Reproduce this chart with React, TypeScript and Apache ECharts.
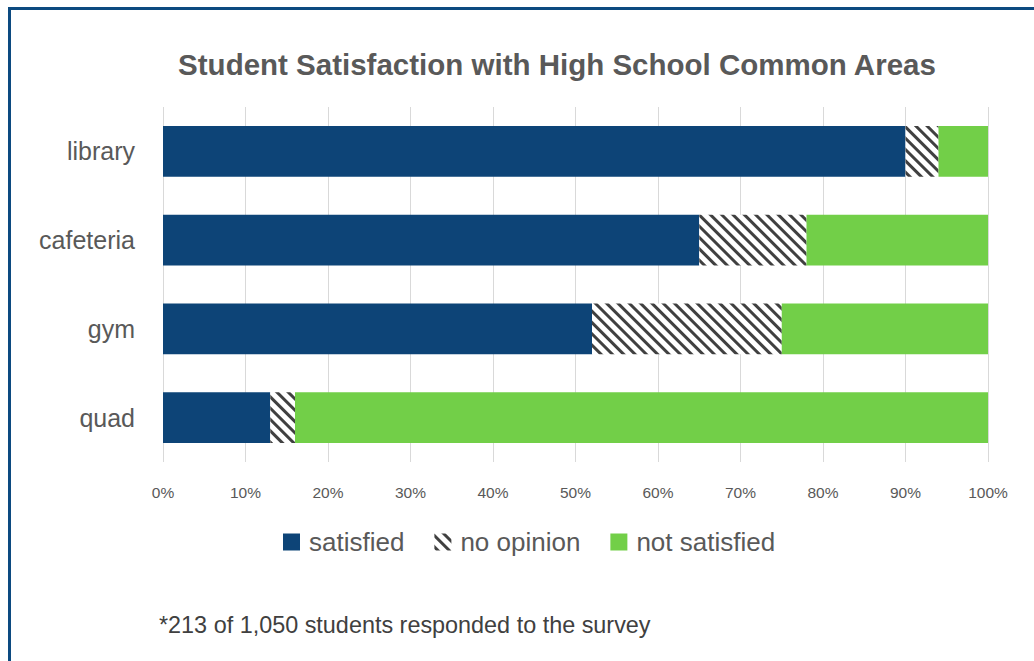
import React, { useEffect, useRef } from "react";
import * as echarts from "echarts";

const categories = ["library", "cafeteria", "gym", "quad"];
const satisfied = [90, 65, 52, 13];
const noOpinion = [4, 13, 23, 3];
const notSatisfied = [6, 22, 25, 84];
const xTicks = [0, 10, 20, 30, 40, 50, 60, 70, 80, 90, 100];

export default function App() {
  const ref = useRef<HTMLDivElement>(null);
  useEffect(() => {
    if (!ref.current) return;
    const chart = echarts.init(ref.current, null, { renderer: "svg" });
    const font = "'Liberation Sans', Arial, sans-serif";
    chart.setOption({
      animation: false,
      backgroundColor: "#ffffff",
      textStyle: { fontFamily: font },
      title: {
        text: "Student Satisfaction with High School Common Areas",
        left: 552,
        textAlign: "center",
        top: 44,
        textStyle: { fontSize: 29.5, fontWeight: "bold", color: "#595959", fontFamily: font },
      },
      legend: {
        left: 278,
        top: 524,
        itemWidth: 17,
        itemHeight: 17,
        itemGap: 30,
        icon: "rect",
        textStyle: { fontSize: 26, color: "#595959", fontFamily: font, padding: [0, 0, 0, 4] },
        data: ["satisfied", "no opinion", "not satisfied"],
      },
      grid: { left: 163, right: 46, top: 107, bottom: 199 },
      xAxis: {
        type: "value",
        min: 0,
        max: 100,
        interval: 10,
        axisLine: { show: false },
        axisTick: { show: false },
        splitLine: { show: true, lineStyle: { color: "#d9d9d9", width: 1 } },
        axisLabel: {
          margin: 22,
          fontSize: 15.5,
          color: "#595959",
          formatter: (v: number) => (xTicks.includes(v) ? v + "%" : ""),
        },
      },
      yAxis: {
        type: "category",
        data: categories,
        inverse: true,
        axisLine: { show: false },
        axisTick: { show: false },
        axisLabel: { margin: 28, fontSize: 25, color: "#595959" },
      },
      series: [
        {
          name: "satisfied",
          type: "bar",
          stack: "total",
          data: satisfied,
          barCategoryGap: "43%",
          itemStyle: { color: "#0d4477" },
        },
        {
          name: "no opinion",
          type: "bar",
          stack: "total",
          data: noOpinion,
          itemStyle: {
            color: "#ffffff",
            decal: {
              symbol: "rect",
              color: "#404040",
              dashArrayX: [1, 0],
              dashArrayY: [2.5, 4.5],
              rotation: Math.PI / 4,
              symbolSize: 1,
            },
          },
        },
        {
          name: "not satisfied",
          type: "bar",
          stack: "total",
          data: notSatisfied,
          itemStyle: { color: "#72cf48" },
        },
      ],
      graphic: [
        {
          type: "line",
          shape: { x1: 8, y1: 8.5, x2: 1034, y2: 8.5 },
          style: { stroke: "#0c4a80", lineWidth: 3 },
        },
        {
          type: "line",
          shape: { x1: 9.5, y1: 7, x2: 9.5, y2: 661 },
          style: { stroke: "#0c4a80", lineWidth: 3 },
        },
        {
          type: "text",
          left: 159,
          top: 613,
          style: {
            text: "*213 of 1,050 students responded to the survey",
            fontSize: 23.4,
            fill: "#404040",
            fontFamily: font,
          },
        },
      ],
    });
    return () => chart.dispose();
  }, []);
  return (
    <div
      ref={ref}
      style={{ position: "fixed", left: 0, top: 0, width: 1034, height: 661 }}
    />
  );
}
